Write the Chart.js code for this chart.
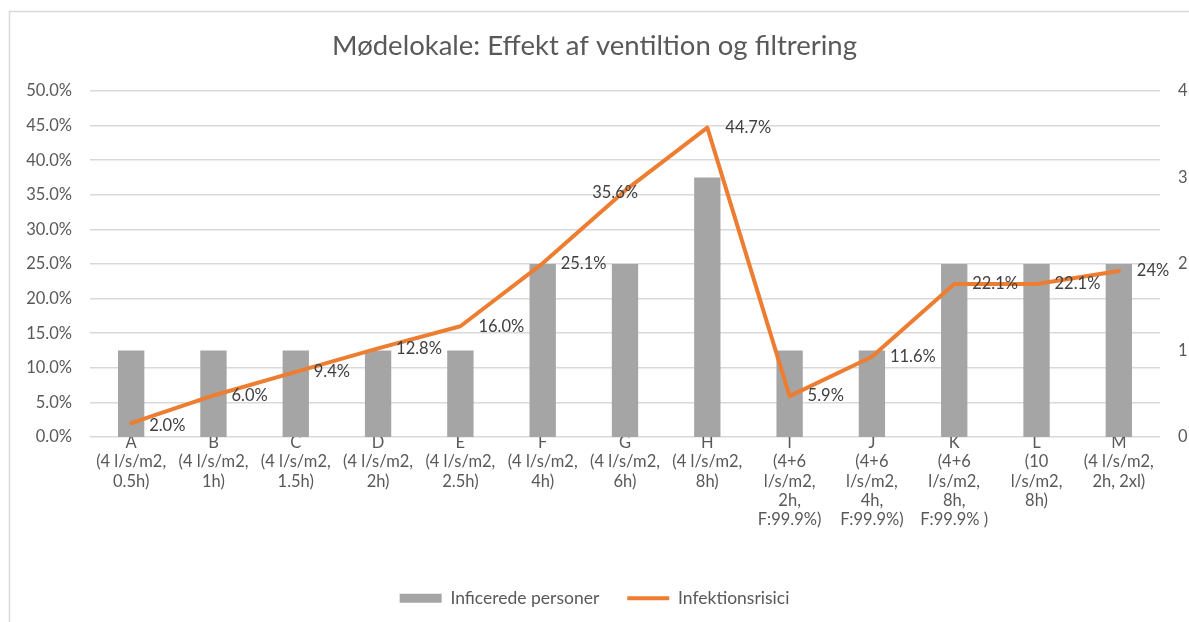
<!DOCTYPE html>
<html>
<head>
<meta charset="utf-8">
<script src="https://cdn.jsdelivr.net/npm/chart.js@4"></script>
<style>
  body { margin: 0; background: #fff; }
  #wrap { width: 1189px; height: 622px; position: relative; }
</style>
</head>
<body>
<div id="wrap"><canvas id="chart"></canvas></div>
<script>
// Categories (multi-line labels)
const categories = [
    ['A', '(4 l/s/m2,', '0.5h)'],
    ['B', '(4 l/s/m2,', '1h)'],
    ['C', '(4 l/s/m2,', '1.5h)'],
    ['D', '(4 l/s/m2,', '2h)'],
    ['E', '(4 l/s/m2,', '2.5h)'],
    ['F', '(4 l/s/m2,', '4h)'],
    ['G', '(4 l/s/m2,', '6h)'],
    ['H', '(4 l/s/m2,', '8h)'],
    ['I', '(4+6', 'l/s/m2,', '2h,', 'F:99.9%)'],
    ['J', '(4+6', 'l/s/m2,', '4h,', 'F:99.9%)'],
    ['K', '(4+6', 'l/s/m2,', '8h,', 'F:99.9% )'],
    ['L', '(10', 'l/s/m2,', '8h)'],
    ['M', '(4 l/s/m2,', '2h, 2xl)']
];

// Series
const infectedPersons = [1, 1, 1, 1, 1, 2, 2, 3, 1, 1, 2, 2, 2];
const infectionRisk = [2.0, 6.0, 9.4, 12.8, 16.0, 25.1, 35.6, 44.7, 5.9, 11.6, 22.1, 22.1, 24.0];
const riskLabels = ['2.0%', '6.0%', '9.4%', '12.8%', '16.0%', '25.1%', '35.6%', '44.7%', '5.9%', '11.6%', '22.1%', '22.1%', '24%'];

const textColor = '#595959';
const fontFamily = 'Lato, "Liberation Sans", sans-serif';

// Draws the value labels next to the line points
const lineLabels = {
    id: 'lineLabels',
    afterDatasetsDraw(chart) {
        const meta = chart.getDatasetMeta(0);
        const ctx = chart.ctx;
        ctx.save();
        ctx.font = '16.5px ' + fontFamily;
        ctx.fillStyle = '#404040';
        ctx.textBaseline = 'middle';
        meta.data.forEach((pt, i) => {
            if (i === 6) {
                ctx.textAlign = 'right';
                ctx.fillText(riskLabels[i], pt.x + 13, pt.y + 2);
            } else {
                ctx.textAlign = 'left';
                ctx.fillText(riskLabels[i], pt.x + 18, pt.y + (i === 0 ? 3 : 0));
            }
        });
        ctx.restore();
    }
};

// Light frame around the chart
const frame = {
    id: 'frame',
    beforeDraw(chart) {
        const ctx = chart.ctx;
        ctx.save();
        ctx.strokeStyle = '#D9D9D9';
        ctx.lineWidth = 1.5;
        ctx.beginPath();
        ctx.moveTo(9.5, chart.height + 5);
        ctx.lineTo(9.5, 11.5);
        ctx.lineTo(chart.width + 5, 11.5);
        ctx.stroke();
        ctx.restore();
    }
};

new Chart(document.getElementById('chart'), {
    data: {
        labels: categories,
        datasets: [
            {
                type: 'line',
                label: 'Infektionsrisici',
                data: infectionRisk,
                yAxisID: 'y',
                borderColor: '#ED7D31',
                backgroundColor: '#ED7D31',
                borderWidth: 4,
                borderCapStyle: 'round',
                borderJoinStyle: 'round',
                pointRadius: 0,
                pointStyle: 'line',
                tension: 0,
                order: 0
            },
            {
                type: 'bar',
                label: 'Inficerede personer',
                data: infectedPersons,
                yAxisID: 'y1',
                backgroundColor: '#A5A5A5',
                pointStyle: 'rect',
                categoryPercentage: 1,
                barPercentage: 0.32,
                order: 1
            }
        ]
    },
    options: {
        responsive: true,
        maintainAspectRatio: false,
        animation: false,
        layout: { padding: { left: 0, right: 0, top: 0, bottom: 5 } },
        scales: {
            x: {
                grid: { display: false, drawTicks: false },
                border: { display: false },
                ticks: {
                    color: textColor,
                    font: { family: fontFamily, size: 16.5, lineHeight: 1.17 },
                    padding: -4,
                    maxRotation: 0,
                    autoSkip: false
                },
                afterFit: s => { s.height += 36; }
            },
            y: {
                position: 'left',
                min: 0,
                max: 50,
                grid: { color: '#D9D9D9', lineWidth: 1.5, drawTicks: false },
                border: { display: false },
                ticks: {
                    stepSize: 5,
                    color: textColor,
                    padding: 18,
                    font: { family: fontFamily, size: 16.5 },
                    callback: v => v.toFixed(1) + '%'
                },
                afterFit: s => { s.width = 90; }
            },
            y1: {
                position: 'right',
                min: 0,
                max: 4,
                grid: { display: false, drawTicks: false },
                border: { display: false },
                ticks: {
                    stepSize: 1,
                    color: textColor,
                    padding: 18,
                    font: { family: fontFamily, size: 16.5 }
                },
                afterFit: s => { s.width = 29; }
            }
        },
        plugins: {
            title: {
                display: true,
                text: 'Mødelokale: Effekt af ventiltion og filtrering',
                color: textColor,
                font: { family: fontFamily, size: 27.5, weight: 'normal' },
                padding: { top: 30, bottom: 28 }
            },
            legend: {
                position: 'bottom',
                reverse: true,
                labels: {
                    color: textColor,
                    font: { family: fontFamily, size: 17.5 },
                    usePointStyle: true,
                    pointStyleWidth: 42,
                    boxHeight: 9,
                    padding: 28
                }
            },
            tooltip: { enabled: false }
        }
    },
    plugins: [lineLabels, frame]
});
</script>
</body>
</html>
